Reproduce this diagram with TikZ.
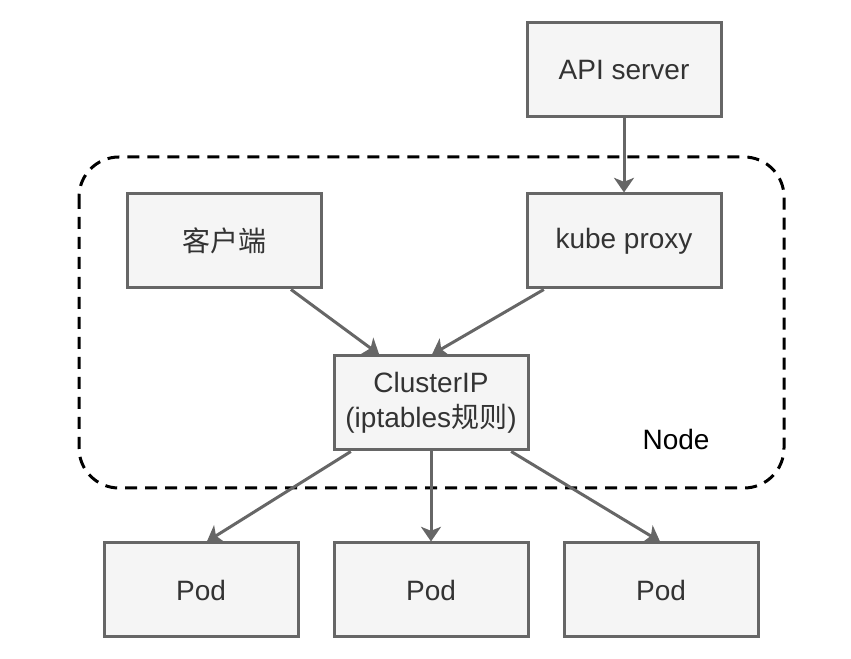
\documentclass[tikz,border=0pt]{standalone}
\usepackage{fontspec}
\setmainfont{Liberation Sans}
\newfontfamily\cjk{Noto Sans CJK SC}
\usetikzlibrary{arrows.meta,calc}
\definecolor{boxfill}{HTML}{F5F5F5}
\definecolor{boxline}{HTML}{666666}
\definecolor{txt}{HTML}{333333}
\begin{document}
\begin{tikzpicture}[x=0.75pt,y=-0.75pt,
  box/.style={draw=boxline,fill=boxfill,line width=2.25pt,minimum width=194*0.75pt,minimum height=94*0.75pt,
    inner sep=0pt,text=txt,font=\fontsize{21}{26}\selectfont,align=center},
  conn/.style={draw=boxline,line width=2.25pt,-{Stealth[length=11pt,width=15pt,inset=3pt]}}]
\useasboundingbox (0,0) rectangle (851,659);
\draw[line width=2.25pt,dash pattern=on 9pt off 6pt,rounded corners=30pt] (79,157) rectangle (784,488);
\node[box] (api) at (624,70) {API server};
\node[box] (client) at (224,241) {\cjk 客户端};
\node[box] (proxy) at (624,241) {kube proxy};
\node[box] (cip) at (431,403) {ClusterIP\\(iptables{\cjk 规则})};
\node[box] (pod1) at (201,590) {Pod};
\node[box] (pod2) at (431,590) {Pod};
\node[box] (pod3) at (661,590) {Pod};
\node[text=black,font=\fontsize{21}{26}\selectfont] (nodelbl) at (676,439) {Node};
\draw[conn] (api.south) -- (proxy.north);
\draw[conn] ($(client.south west)!0.84!(client.south east)$) -- ($(cip.north west)!0.237!(cip.north east)$);
\draw[conn] ($(proxy.south west)!0.093!(proxy.south east)$) -- ($(cip.north west)!0.505!(cip.north east)$);
\draw[conn] ($(cip.south west)!0.093!(cip.south east)$) -- ($(pod1.north west)!0.53!(pod1.north east)$);
\draw[conn] (cip.south) -- (pod2.north);
\draw[conn] ($(cip.south west)!0.907!(cip.south east)$) -- ($(pod3.north west)!0.495!(pod3.north east)$);
\end{tikzpicture}
\end{document}
